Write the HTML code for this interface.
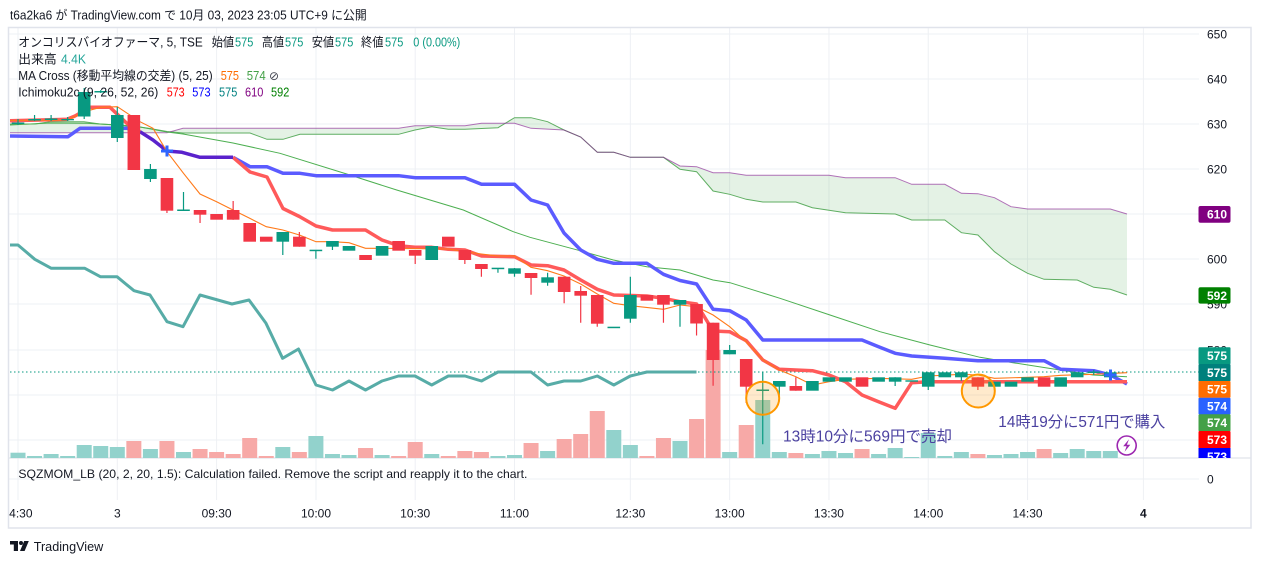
<!DOCTYPE html>
<html><head><meta charset="utf-8"><style>
html,body{margin:0;padding:0;background:#fff;}
svg{display:block;}
text{font-family:"Liberation Sans","Noto Sans CJK JP",sans-serif;}
</style></head><body>
<svg width="1261" height="563" viewBox="0 0 1261 563" xmlns="http://www.w3.org/2000/svg">
<defs>
<clipPath id="pane"><rect x="9" y="28" width="1190" height="430"/></clipPath>
<clipPath id="axis"><rect x="9.5" y="500" width="1190" height="28"/></clipPath>
</defs>
<rect width="1261" height="563" fill="#fff"/>
<!-- header -->
<text x="10" y="19.3" font-size="12.5" fill="#131722" textLength="356.7" lengthAdjust="spacingAndGlyphs">t6a2ka6 が TradingView.com で 10月 03, 2023 23:05 UTC+9 に公開</text>

<!-- grid -->
<g stroke="#eef0f4" stroke-width="1">
<path d="M9 34H1199M9 79H1199M9 124H1199M9 169H1199M9 214H1199M9 259H1199M9 304H1199M9 350H1199M9 395H1199M9 440H1199M9 479H1199"/>
<path d="M18 28V500M117.3 28V500M216.6 28V500M316 28V500M415.2 28V500M514.5 28V500M630.35 28V500M729.65 28V500M828.95 28V500M928.25 28V500M1027.55 28V500M1143.4 28V500"/>
</g>

<!-- frame -->
<rect x="8.5" y="27.5" width="1242.5" height="500.5" fill="none" stroke="#e0e3eb" stroke-width="1.5"/>
<path d="M8.5 458H1251" stroke="#e0e3eb" stroke-width="1.2"/>

<g clip-path="url(#pane)">
<!-- volume -->
<g fill="#92d2cc">
<rect x="10.5" y="452.7" width="15" height="5.3"/>
<rect x="27.05" y="456" width="15" height="2"/>
<rect x="43.6" y="454" width="15" height="4"/>
<rect x="60.15" y="456" width="15" height="2"/>
<rect x="76.7" y="445" width="15" height="13"/>
<rect x="93.25" y="446" width="15" height="12"/>
<rect x="109.8" y="447" width="15" height="11"/>
<rect x="142.9" y="449" width="15" height="9"/>
<rect x="176" y="452" width="15" height="6"/>
<rect x="275.3" y="447" width="15" height="11"/>
<rect x="308.4" y="436" width="15" height="22"/>
<rect x="324.95" y="454" width="15" height="4"/>
<rect x="341.5" y="455" width="15" height="3"/>
<rect x="374.6" y="455" width="15" height="3"/>
<rect x="424.25" y="454" width="15" height="4"/>
<rect x="490.45" y="456" width="15" height="2"/>
<rect x="507" y="455" width="15" height="3"/>
<rect x="540.1" y="451" width="15" height="7"/>
<rect x="606.3" y="430" width="15" height="28"/>
<rect x="622.85" y="445" width="15" height="13"/>
<rect x="672.5" y="441" width="15" height="17"/>
<rect x="722.15" y="452" width="15" height="6"/>
<rect x="755.25" y="400" width="15" height="58"/>
<rect x="771.8" y="452" width="15" height="6"/>
<rect x="804.9" y="454" width="15" height="4"/>
<rect x="821.45" y="451" width="15" height="7"/>
<rect x="838" y="453" width="15" height="5"/>
<rect x="871.1" y="454" width="15" height="4"/>
<rect x="887.65" y="448" width="15" height="10"/>
<rect x="904.2" y="457" width="15" height="1"/>
<rect x="920.75" y="433" width="15" height="25"/>
<rect x="937.3" y="456" width="15" height="2"/>
<rect x="953.85" y="452" width="15" height="6"/>
<rect x="986.95" y="455" width="15" height="3"/>
<rect x="1003.5" y="454" width="15" height="4"/>
<rect x="1020.05" y="452" width="15" height="6"/>
<rect x="1053.15" y="453" width="15" height="5"/>
<rect x="1069.7" y="449" width="15" height="9"/>
<rect x="1086.25" y="451" width="15" height="7"/>
<rect x="1102.8" y="451" width="15" height="7"/>
</g>
<g fill="#f7a9a7">
<rect x="126.35" y="441" width="15" height="17"/>
<rect x="159.45" y="441" width="15" height="17"/>
<rect x="192.55" y="449" width="15" height="9"/>
<rect x="209.1" y="452" width="15" height="6"/>
<rect x="225.65" y="454" width="15" height="4"/>
<rect x="242.2" y="438" width="15" height="20"/>
<rect x="258.75" y="456" width="15" height="2"/>
<rect x="291.85" y="452" width="15" height="6"/>
<rect x="358.05" y="448" width="15" height="10"/>
<rect x="391.15" y="456" width="15" height="2"/>
<rect x="407.7" y="442" width="15" height="16"/>
<rect x="440.8" y="456" width="15" height="2"/>
<rect x="457.35" y="451" width="15" height="7"/>
<rect x="473.9" y="452" width="15" height="6"/>
<rect x="523.55" y="443" width="15" height="15"/>
<rect x="556.65" y="439" width="15" height="19"/>
<rect x="573.2" y="434" width="15" height="24"/>
<rect x="589.75" y="411" width="15" height="47"/>
<rect x="639.4" y="456" width="15" height="2"/>
<rect x="655.95" y="438" width="15" height="20"/>
<rect x="689.05" y="419" width="15" height="39"/>
<rect x="705.6" y="350" width="15" height="108"/>
<rect x="738.7" y="425" width="15" height="33"/>
<rect x="788.35" y="453" width="15" height="5"/>
<rect x="854.55" y="449" width="15" height="9"/>
<rect x="970.4" y="454" width="15" height="4"/>
<rect x="1036.6" y="449" width="15" height="9"/>
</g>

<!-- cloud -->
<polygon fill="rgba(67,160,71,0.14)" points="10,124 35,124 50,121.7 84,121.7 100,124 117,125 133,126 150,128.5 167,131.5 183,133 250,133 267,139.3 283,139.3 300,134.3 398.6,134.3 415,130 431.7,126.7 448.3,129.3 465,129.3 498,127.7 514.5,117.7 531,117.7 547.6,121.7 564,130 580.7,137 597.3,152.3 613.8,152.3 630.3,157.3 663.5,157.3 680,169.3 696.6,171.7 713.1,191 729.7,194.3 746.2,199.3 762.8,202 795.9,202 812.4,207.7 845.5,212.7 895.2,214 911.7,220 944.8,220 961.4,232.7 977.9,235 994.5,251.7 1011,264 1027.6,273.3 1044.1,279.3 1077.2,280 1093.8,287.3 1110.3,289.3 1127,295 1127,214 1110.3,209 1027.6,209 1011,206.7 994.5,197.7 977.9,193.7 961.4,193.3 944.8,184.3 911.7,184.3 895.2,177.7 845.5,177.7 829,175.3 746.2,175.3 729.7,172.7 713.1,172.7 696.6,166.7 680,166 663.5,157.3 630.3,157.3 613.8,152.3 597.3,152.3 580.7,137 564,130 531,128.3 514.5,123.3 481.5,123.3 465,125.7 415,125.7 398.6,128.3 280,128.3 183,128.3 167,132.7 10,132.7"/>
<polyline fill="none" stroke="#5fae62" stroke-width="1" points="10,124 35,124 50,121.7 84,121.7 100,124 117,125 133,126 150,128.5 167,131.5 183,133 250,133 267,139.3 283,139.3 300,134.3 398.6,134.3 415,130 431.7,126.7 448.3,129.3 465,129.3 498,127.7 514.5,117.7 531,117.7 547.6,121.7 564,130 580.7,137 597.3,152.3 613.8,152.3 630.3,157.3 663.5,157.3 680,169.3 696.6,171.7 713.1,191 729.7,194.3 746.2,199.3 762.8,202 795.9,202 812.4,207.7 845.5,212.7 895.2,214 911.7,220 944.8,220 961.4,232.7 977.9,235 994.5,251.7 1011,264 1027.6,273.3 1044.1,279.3 1077.2,280 1093.8,287.3 1110.3,289.3 1127,295"/>
<polyline fill="none" stroke="rgba(140,40,150,0.65)" stroke-width="1" points="10,132.7 167,132.7 183,128.3 280,128.3 398.6,128.3 415,125.7 465,125.7 481.5,123.3 514.5,123.3 531,128.3 564,130 580.7,137 597.3,152.3 613.8,152.3 630.3,157.3 663.5,157.3 680,166 696.6,166.7 713.1,172.7 729.7,172.7 746.2,175.3 829,175.3 845.5,177.7 895.2,177.7 911.7,184.3 944.8,184.3 961.4,193.3 977.9,193.7 994.5,197.7 1011,206.7 1027.6,209 1110.3,209 1127,214"/>

<!-- MA25 -->
<polyline fill="none" stroke="#4caf50" stroke-width="1" points="10,125 50,123 87,123.3 117,125 140,127 167,132 183,134 233,143 280,153.3 346.7,174 396.7,190 463.3,210 513.3,231.7 530,237.3 580,250.7 613.3,260 646.7,266.7 680,270 713,280 730,282.7 780,298.3 830,315 880,331.7 930,345 980,357.3 1013,362.7 1060,370 1093,375 1127,376.7"/>

<!-- dotted last price -->
<path d="M10 372H1199" stroke="#089981" stroke-width="1" stroke-dasharray="1.5 2.5"/>

<!-- chikou -->
<polyline fill="none" stroke="#57aca7" stroke-width="3" stroke-linejoin="round" points="10,245 18,245 34.8,259.3 51.3,268.3 84.8,268.3 100.4,276.7 117,276.7 134,290.7 150,295 167,321.7 183,326.7 200,295 232,304 249,300 266,323.3 282.6,358.3 298.5,349 316,385 332.5,390 349,381 365.5,390 382,381 398.5,376 415,376 431.7,385 448.3,376 465,376 481.5,381 498,372 531,372 547.6,385 564,381 580.7,381 597.3,376 613.8,385 630.3,376 646.9,372 696.5,372"/>

<!-- kijun blue -->
<polyline fill="none" stroke="#5b5bff" stroke-width="3.5" stroke-linejoin="round" points="10,136 68,136.7 80,128.3 127,128.3 140,131.7"/>
<polyline fill="none" stroke="#5b5bff" stroke-width="3.5" stroke-linejoin="round" points="233,157.3 250,166.7 267,166.7 283,173.3 300,173.3 316,175.7 398.6,175.7 415,177.7 465,177.7 481.5,184.3 514.5,184.3 531,200 547.6,205 564,233 580.7,250 597.3,259.3 613.8,263.3 646.9,263.3 663.5,274.3 680,280.5 696.6,284 713.1,309.3 729.7,310.7 746.2,320 762.8,340 862,340 878.6,346.7 895.2,353.3 911.7,356 944.8,358.3 977.9,360.7 1044.1,360.7 1060.7,369.3 1093.8,370.7 1110.3,375 1127,384"/>
<!-- tenkan red -->
<polyline fill="none" stroke="#ff5a5a" stroke-width="3.5" stroke-linejoin="round" points="10,120.7 60,119.5 67,119.3 75,116 90,107.3 110,107.3 127,123.5 140,131.7"/>
<polyline fill="none" stroke="#ff5a5a" stroke-width="3.5" stroke-linejoin="round" points="233,157.3 250,172 267,177 283,208.5 299.4,216.5 316,226 332.5,230 365.5,230 382,240 398.6,245.7 415,247.3 431.8,247.3 448.3,249.3 465,250 481.5,256 514.5,256.7 531,265 547.6,265.7 564,270 580.7,280 597.3,289.3 613.8,295 646.9,296 663.5,298.3 680,301.7 696.6,304 713.1,331 729.7,331.7 746.2,340.7 762.8,360 779.3,369.3 795.9,370 812.4,370.7 829,375 845.5,381.7 862,395 878.6,401.7 895.2,408.3 911.7,382.7 928.3,381.7 1127,381.7"/>
<!-- overlap purple -->
<polyline fill="none" stroke="#5a22cc" stroke-width="3.5" stroke-linejoin="round" points="140,131.7 153,140 167,151 182,152.3 200,157.3 233,157.3"/>

<!-- MA5 -->
<polyline fill="none" stroke="#ff7a1a" stroke-width="1.1" points="10,120.5 67.6,120 84.2,111.7 100.8,107.3 117.3,106.7 140,121.7 153,128.3 167,151.7 183.5,173.3 200,194 216.6,201.7 233,210 249.7,218.3 266.3,226.7 282.8,230 299.4,235 316,241.7 332.5,241.7 349,242.7 365.5,248.3 382,248.3 448.3,249 465,251.7 481.5,254 498,256 514.5,256 531,267.3 547.6,270.7 564,276 580.7,284 597.3,294 613.8,303.3 630.3,305.7 663.5,309.3 680,305 696.6,306.7 713.1,315 729.7,326.7 746.2,341.7 762.8,360 779.3,370 795.9,376.7 812.4,385 829,381.7 845.5,379.3 878.6,378.3 911.7,379.3 928.3,376 961.4,374.3 977.9,375 994.5,378.3 1027.6,377.3 1044.1,376.7 1060.7,375.3 1093.8,374.3 1127,372.7"/>

<!-- wicks -->
<g stroke="#089981" stroke-width="1.2">
<path d="M18 119V125M34.55 115V121M51.1 115V121M67.65 117V121M84.2 88V119M100.75 90V93M117.3 107V142M150.4 164V182M183.5 192V211M282.8 232V255M315.9 250V258.7M332.45 241V250M497.95 268V272.7M514.5 268V276.7M547.6 272.7V285.7M630.35 276.7V322.7M680 300V326.7M729.65 345V354.3M762.75 371.7V444.3M779.3 381V395M895.15 377.3V386M928.25 372.3V390M961.35 372.3V380.7M994.45 381.7V390M1093.75 370V375"/>
</g>
<g stroke="#f23645" stroke-width="1.2">
<path d="M166.95 178V213M200.05 210V223M233.15 201V219.7M299.35 232V246.7M415.2 250V264M464.85 250V264M481.4 264V276.7M531.05 273V294.7M564.15 276.7V303.3M580.7 286V322.7M597.25 295V326.7M663.45 295V322.7M696.55 304V335.5M713.1 322.7V385.7M746.2 359V403M795.85 377.3V390.7M977.9 377.3V390"/>
</g>
<!-- bodies -->
<g fill="#089981">
<rect x="11.7" y="122.5" width="12.6" height="1.5"/>
<rect x="28.25" y="119" width="12.6" height="1.5"/>
<rect x="44.8" y="118.5" width="12.6" height="1.5"/>
<rect x="61.35" y="119" width="12.6" height="1.3"/>
<rect x="77.9" y="92" width="12.6" height="24.5"/>
<rect x="94.45" y="91" width="12.6" height="1.5"/>
<rect x="111" y="115" width="12.6" height="23"/>
<rect x="144.1" y="169" width="12.6" height="10"/>
<rect x="177.2" y="209.5" width="12.6" height="1.5"/>
<rect x="276.5" y="232" width="12.6" height="9.7"/>
<rect x="309.6" y="249.7" width="12.6" height="1.5"/>
<rect x="326.15" y="241" width="12.6" height="5.7"/>
<rect x="342.7" y="246" width="12.6" height="4.7"/>
<rect x="375.8" y="246" width="12.6" height="9.7"/>
<rect x="425.45" y="246" width="12.6" height="14"/>
<rect x="491.65" y="267.7" width="12.6" height="1.5"/>
<rect x="508.2" y="268.3" width="12.6" height="5.4"/>
<rect x="541.3" y="277.3" width="12.6" height="5.4"/>
<rect x="607.5" y="326.7" width="12.6" height="1.5"/>
<rect x="624.05" y="295" width="12.6" height="23.7"/>
<rect x="673.7" y="300" width="12.6" height="4.7"/>
<rect x="723.35" y="350" width="12.6" height="4.3"/>
<rect x="756.45" y="389.5" width="12.6" height="1.5"/>
<rect x="773" y="381" width="12.6" height="5.7"/>
<rect x="806.1" y="381" width="12.6" height="9.7"/>
<rect x="822.65" y="377.3" width="12.6" height="4.4"/>
<rect x="839.2" y="377.3" width="12.6" height="4.4"/>
<rect x="872.3" y="377.3" width="12.6" height="4.4"/>
<rect x="888.85" y="377.3" width="12.6" height="4.4"/>
<rect x="905.4" y="380.3" width="12.6" height="1.4"/>
<rect x="921.95" y="372.3" width="12.6" height="14.4"/>
<rect x="938.5" y="372.3" width="12.6" height="5"/>
<rect x="955.05" y="372.3" width="12.6" height="5"/>
<rect x="988.15" y="381.7" width="12.6" height="5"/>
<rect x="1004.7" y="381.7" width="12.6" height="5"/>
<rect x="1021.25" y="377.3" width="12.6" height="4.4"/>
<rect x="1054.35" y="377.3" width="12.6" height="9.4"/>
<rect x="1070.9" y="372.3" width="12.6" height="5"/>
<rect x="1087.45" y="371.5" width="12.6" height="1.5"/>
<rect x="1104" y="372.3" width="12.6" height="5"/>
</g>
<g fill="#f23645">
<rect x="127.55" y="115" width="12.6" height="55"/>
<rect x="160.65" y="178" width="12.6" height="32.7"/>
<rect x="193.75" y="210" width="12.6" height="4.7"/>
<rect x="210.3" y="214" width="12.6" height="5.7"/>
<rect x="226.85" y="210" width="12.6" height="9.7"/>
<rect x="243.4" y="223" width="12.6" height="18.7"/>
<rect x="259.95" y="236.7" width="12.6" height="5"/>
<rect x="293.05" y="236.7" width="12.6" height="10"/>
<rect x="359.25" y="255" width="12.6" height="5"/>
<rect x="392.35" y="241" width="12.6" height="9.7"/>
<rect x="408.9" y="250" width="12.6" height="5.7"/>
<rect x="442" y="236.7" width="12.6" height="10"/>
<rect x="458.55" y="250" width="12.6" height="10"/>
<rect x="475.1" y="264" width="12.6" height="5"/>
<rect x="524.75" y="273" width="12.6" height="5"/>
<rect x="557.85" y="276.7" width="12.6" height="15.3"/>
<rect x="574.4" y="291" width="12.6" height="4.7"/>
<rect x="590.95" y="295" width="12.6" height="28.7"/>
<rect x="640.6" y="295" width="12.6" height="5.7"/>
<rect x="657.15" y="295" width="12.6" height="9.7"/>
<rect x="690.25" y="304" width="12.6" height="19.5"/>
<rect x="706.8" y="322.7" width="12.6" height="37.3"/>
<rect x="739.9" y="359" width="12.6" height="27.7"/>
<rect x="789.55" y="386" width="12.6" height="4.7"/>
<rect x="855.75" y="377.3" width="12.6" height="9.4"/>
<rect x="971.6" y="377.3" width="12.6" height="9.4"/>
<rect x="1037.8" y="377.3" width="12.6" height="9.4"/>
</g>

<!-- markers -->
<g stroke="#2f66ff" stroke-width="3">
<path d="M161 151H173M167 145.5V156.5"/>
<path d="M1104.5 375H1116.5M1110.5 369.5V380.5"/>
</g>

<!-- circles -->
<circle cx="762.7" cy="398.3" r="16.5" fill="rgba(255,152,0,0.2)" stroke="#ff9800" stroke-width="2"/>
<circle cx="978.3" cy="391" r="16.5" fill="rgba(255,152,0,0.2)" stroke="#ff9800" stroke-width="2"/>

<!-- annotations -->
<text x="783" y="441.5" font-size="15.5" fill="#4b41a0" textLength="169" lengthAdjust="spacingAndGlyphs">13時10分に569円で売却</text>
<text x="998.3" y="427.2" font-size="15.5" fill="#4b41a0" textLength="167" lengthAdjust="spacingAndGlyphs">14時19分に571円で購入</text>

<!-- lightning -->
<circle cx="1126.7" cy="445.5" r="9.5" fill="#fff" stroke="#9c27b0" stroke-width="1.6"/>
<path d="M1129 439.2L1123.2 446.3H1126.6L1124.6 451.8L1130.3 444.8H1126.9Z" fill="#9c27b0"/>
</g>

<!-- legend -->
<g font-size="12.5" fill="#131722">
<text x="18.3" y="46.3" textLength="184.5" lengthAdjust="spacingAndGlyphs">オンコリスバイオファーマ, 5, TSE</text>
<text x="211.7" y="46.3" textLength="22.5" lengthAdjust="spacingAndGlyphs">始値</text>
<text x="235" y="46.3" fill="#089981" textLength="18.3" lengthAdjust="spacingAndGlyphs">575</text>
<text x="261.7" y="46.3" textLength="22.5" lengthAdjust="spacingAndGlyphs">高値</text>
<text x="285" y="46.3" fill="#089981" textLength="18.3" lengthAdjust="spacingAndGlyphs">575</text>
<text x="311.7" y="46.3" textLength="22.5" lengthAdjust="spacingAndGlyphs">安値</text>
<text x="335" y="46.3" fill="#089981" textLength="18.3" lengthAdjust="spacingAndGlyphs">575</text>
<text x="361" y="46.3" textLength="22.5" lengthAdjust="spacingAndGlyphs">終値</text>
<text x="385" y="46.3" fill="#089981" textLength="18.3" lengthAdjust="spacingAndGlyphs">575</text>
<text x="413.3" y="46.3" fill="#089981" textLength="47" lengthAdjust="spacingAndGlyphs">0 (0.00%)</text>

<text x="18.3" y="63.5" textLength="38.4" lengthAdjust="spacingAndGlyphs">出来高</text>
<text x="61" y="63.5" fill="#26a69a" textLength="25" lengthAdjust="spacingAndGlyphs">4.4K</text>

<text x="18.3" y="80.2" textLength="194.4" lengthAdjust="spacingAndGlyphs">MA Cross (移動平均線の交差) (5, 25)</text>
<text x="220.7" y="80.2" fill="#ff6d00" textLength="18.3" lengthAdjust="spacingAndGlyphs">575</text>
<text x="246.7" y="80.2" fill="#43a047" textLength="19" lengthAdjust="spacingAndGlyphs">574</text>
<text x="269" y="80.2" fill="#434651" style="font-family:'DejaVu Sans',sans-serif" font-size="12">⊘</text>

<text x="18.3" y="96.5" textLength="140" lengthAdjust="spacingAndGlyphs">Ichimoku2c (9, 26, 52, 26)</text>
<text x="166.7" y="96.5" fill="#ff0000" textLength="18" lengthAdjust="spacingAndGlyphs">573</text>
<text x="192.3" y="96.5" fill="#0000ff" textLength="18.3" lengthAdjust="spacingAndGlyphs">573</text>
<text x="219" y="96.5" fill="#008080" textLength="18.3" lengthAdjust="spacingAndGlyphs">575</text>
<text x="245" y="96.5" fill="#800080" textLength="18.3" lengthAdjust="spacingAndGlyphs">610</text>
<text x="271" y="96.5" fill="#008000" textLength="18.3" lengthAdjust="spacingAndGlyphs">592</text>
</g>

<!-- lower pane text -->
<text x="18.4" y="478" font-size="12" fill="#131722" textLength="509" lengthAdjust="spacingAndGlyphs">SQZMOM_LB (20, 2, 20, 1.5): Calculation failed. Remove the script and reapply it to the chart.</text>

<!-- price axis -->
<g font-size="12" fill="#131722">
<text x="1207" y="38.3">650</text>
<text x="1207" y="83.3">640</text>
<text x="1207" y="128.3">630</text>
<text x="1207" y="173.3">620</text>
<text x="1207" y="263.3">600</text>
<text x="1207" y="308.3">590</text>
<text x="1207" y="354.3">580</text>
<text x="1207" y="483.3">0</text>
</g>
<g font-size="12" font-weight="bold" fill="#fff">
<rect x="1198.5" y="206" width="32" height="16.7" rx="2" fill="#800080"/>
<text x="1207" y="218.6">610</text>
<rect x="1198.5" y="287.3" width="32" height="16.3" rx="2" fill="#008000"/>
<text x="1207" y="299.8">592</text>
<rect x="1198.5" y="347.3" width="32" height="16.9" rx="1" fill="#089981"/>
<text x="1207" y="360">575</text>
<rect x="1198.5" y="364" width="32" height="17.2" rx="1" fill="#00807c"/>
<text x="1207" y="376.8">575</text>
<rect x="1198.5" y="381" width="32" height="16.9" rx="1" fill="#ff6d00"/>
<text x="1207" y="393.7">575</text>
<rect x="1198.5" y="397.7" width="32" height="16.8" rx="1" fill="#2962ff"/>
<text x="1207" y="410.3">574</text>
<rect x="1198.5" y="414.3" width="32" height="16.9" rx="1" fill="#43a047"/>
<text x="1207" y="427">574</text>
<rect x="1198.5" y="431" width="32" height="17.2" rx="1" fill="#ff0000"/>
<text x="1207" y="443.8">573</text>
<svg x="1198" y="448" width="34" height="10" overflow="hidden">
<rect x="0.5" y="0" width="32" height="17" fill="#0000ff"/>
<text x="9" y="12.8" font-size="12" font-weight="bold" fill="#fff">573</text>
</svg>
</g>

<!-- time axis -->
<g font-size="12" fill="#131722" text-anchor="middle" clip-path="url(#axis)">
<text x="17.5" y="517.5">14:30</text>
<text x="117.3" y="517.5">3</text>
<text x="216.6" y="517.5">09:30</text>
<text x="316" y="517.5">10:00</text>
<text x="415.2" y="517.5">10:30</text>
<text x="514.5" y="517.5">11:00</text>
<text x="630.35" y="517.5">12:30</text>
<text x="729.65" y="517.5">13:00</text>
<text x="828.95" y="517.5">13:30</text>
<text x="928.25" y="517.5">14:00</text>
<text x="1027.55" y="517.5">14:30</text>
<text x="1143.4" y="517.5" font-weight="bold">4</text>
</g>

<!-- logo -->
<g fill="#131722">
<rect x="10" y="541" width="8" height="3.5"/>
<rect x="13.8" y="541" width="4.2" height="10"/>
<circle cx="21" cy="543" r="2"/>
<polygon points="24.2,541 28.8,541 24.6,551 20,551"/>
</g>
<text x="33.7" y="551" font-size="13" fill="#131722" textLength="69.6" lengthAdjust="spacingAndGlyphs">TradingView</text>
</svg>
</body></html>
